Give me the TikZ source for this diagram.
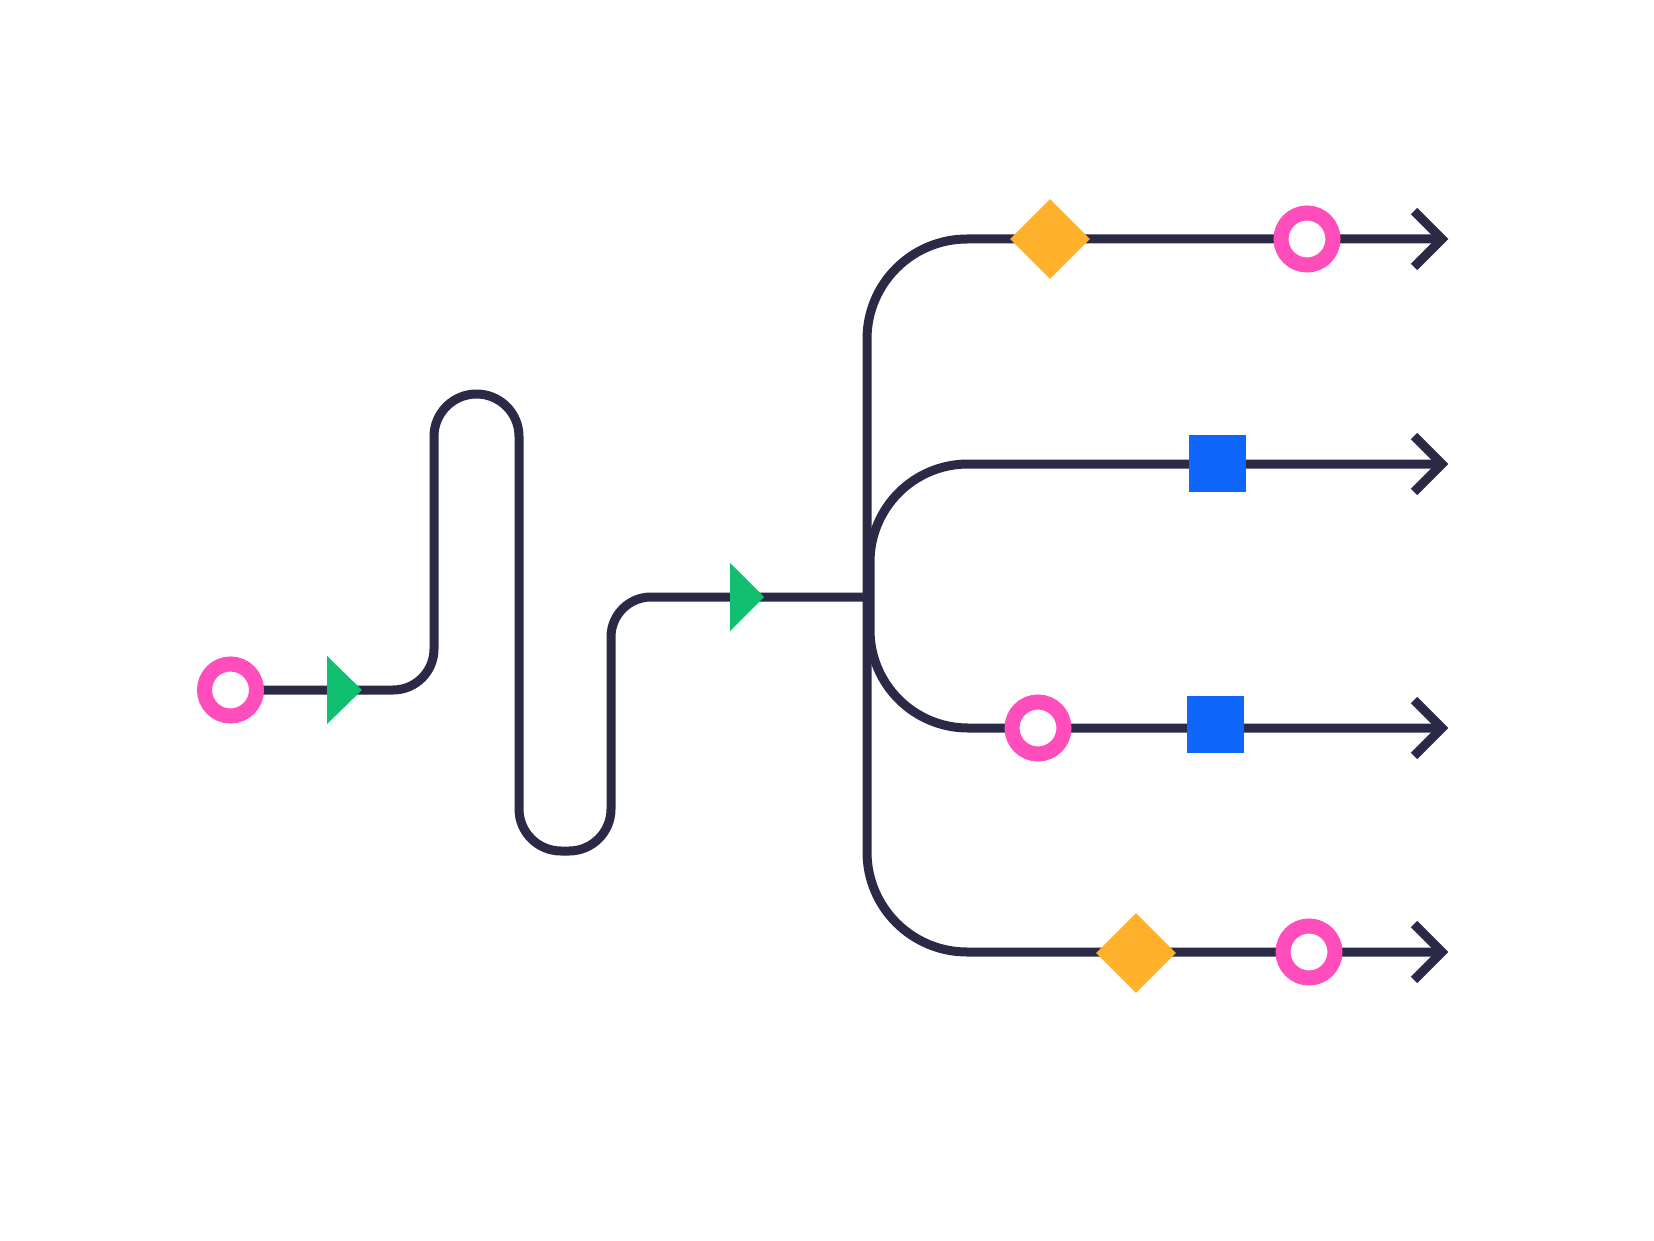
\documentclass[tikz,border=0pt]{standalone}
\usetikzlibrary{shapes.geometric}
\definecolor{navy}{HTML}{2A2946}
\definecolor{pinkc}{HTML}{FF4DBB}
\definecolor{greenc}{HTML}{10BF6F}
\definecolor{orangec}{HTML}{FFB12B}
\definecolor{bluec}{HTML}{0E66FA}
\begin{document}
\begin{tikzpicture}[x=1pt,y=-1pt,
  track/.style={draw=navy,line width=9pt,line cap=butt,line join=round},
  chev/.style={draw=navy,line width=9pt,line cap=butt,line join=miter},
  ring/.style={circle,draw=pinkc,line width=15pt,fill=white,minimum size=52pt,inner sep=0pt},
  gem/.style={diamond,fill=orangec,minimum width=80pt,minimum height=80pt,inner sep=0pt},
  block/.style={rectangle,fill=bluec,minimum size=57pt,inner sep=0pt},
  flag/.style={fill=greenc}
]
\useasboundingbox (0,0) rectangle (1654,1241);
\fill[white] (0,0) rectangle (1654,1241);

% named points
\coordinate (start) at (230.5,690);
\coordinate (g1) at (327,690);
\coordinate (g2) at (730,597);
\coordinate (join) at (867,597);
\coordinate (e1) at (1442,239);
\coordinate (e2) at (1442,464);
\coordinate (e3) at (1442,728);
\coordinate (e4) at (1442,952);

% winding input track
\draw[track] (start) -- (393,690) arc[start angle=90,end angle=0,radius=41]
  -- (434,436.5) arc[start angle=180,end angle=360,radius=42.5]
  -- (519,809) arc[start angle=180,end angle=90,radius=42]
  -- (569,851) arc[start angle=90,end angle=0,radius=42]
  -- (611,637) arc[start angle=180,end angle=270,radius=40]
  -- (join);

% outer branches (top and bottom)
\draw[track] (e1) -- (967,239) arc[start angle=270,end angle=180,radius=100]
  -- (867,852) arc[start angle=180,end angle=90,radius=100]
  -- (e4);

% inner branches
\draw[track] (e2) -- (968,464) arc[start angle=270,end angle=180,radius=98]
  -- (870,630) arc[start angle=180,end angle=90,radius=98]
  -- (e3);

% arrow heads
\foreach \e in {e1,e2,e3,e4}{
  \draw[chev] (\e) ++(-28,-28) -- ++(28,28) -- ++(-28,28);
}

% markers
\node[ring] (r0) at (start) {};
\fill[flag] (g1) ++(0,-34) -- ++(35,34) -- ++(-35,34) -- cycle;
\fill[flag] (g2) ++(0,-34) -- ++(34,34) -- ++(-34,34) -- cycle;

\node[gem] (d1) at (1050,239) {};
\node[ring] (r1) at (1307,239) {};

\node[block] (b2) at (1217.5,463.5) {};

\node[ring] (r3) at (1038,728) {};
\node[block] (b3) at (1215.5,724.5) {};

\node[gem] (d4) at (1136,953) {};
\node[ring] (r4) at (1309,952) {};
\end{tikzpicture}
\end{document}
